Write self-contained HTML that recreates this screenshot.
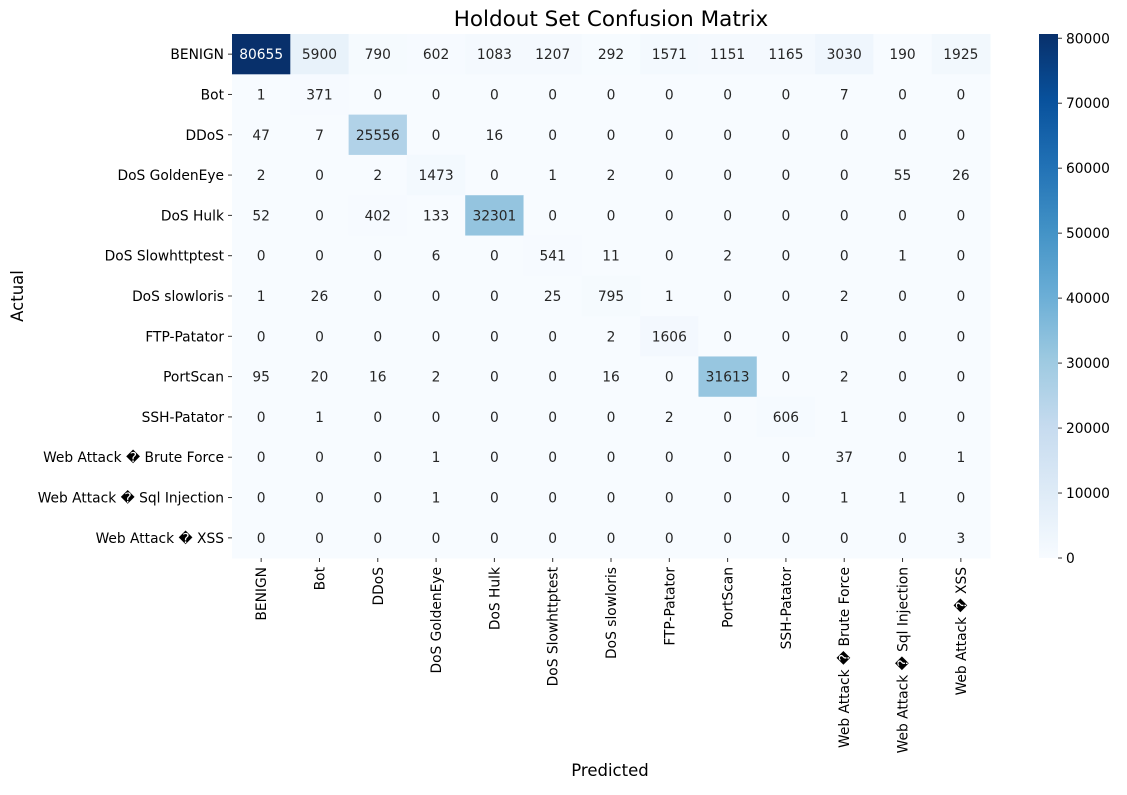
<!DOCTYPE html>
<html><head><meta charset="utf-8"><style>
body{margin:0;background:#fff;}
svg text{font-family:"DejaVu Sans","Liberation Sans",sans-serif;}
</style></head><body>
<svg id="chart" width="1127" height="790" xmlns="http://www.w3.org/2000/svg">
<text x="611" y="26" font-size="21.5" text-anchor="middle">Holdout Set Confusion Matrix</text>
<text x="610" y="776" font-size="16.5" text-anchor="middle">Predicted</text>
<text transform="translate(23,296) rotate(-90)" font-size="16.5" text-anchor="middle">Actual</text>
<g id="cells"></g><g id="xt"></g><g id="yt"></g><g id="cb"></g>
</svg>
<script>
const classes=["BENIGN","Bot","DDoS","DoS GoldenEye","DoS Hulk","DoS Slowhttptest","DoS slowloris","FTP-Patator","PortScan","SSH-Patator","Web Attack \uFFFD Brute Force","Web Attack \uFFFD Sql Injection","Web Attack \uFFFD XSS"];
const matrix=[
[80655,5900,790,602,1083,1207,292,1571,1151,1165,3030,190,1925],
[1,371,0,0,0,0,0,0,0,0,7,0,0],
[47,7,25556,0,16,0,0,0,0,0,0,0,0],
[2,0,2,1473,0,1,2,0,0,0,0,55,26],
[52,0,402,133,32301,0,0,0,0,0,0,0,0],
[0,0,0,6,0,541,11,0,2,0,0,1,0],
[1,26,0,0,0,25,795,1,0,0,2,0,0],
[0,0,0,0,0,0,2,1606,0,0,0,0,0],
[95,20,16,2,0,0,16,0,31613,0,2,0,0],
[0,1,0,0,0,0,0,2,0,606,1,0,0],
[0,0,0,1,0,0,0,0,0,0,37,0,1],
[0,0,0,1,0,0,0,0,0,0,1,1,0],
[0,0,0,0,0,0,0,0,0,0,0,0,3]];
const cbTicks=[0,10000,20000,30000,40000,50000,60000,70000,80000];
const NS="http://www.w3.org/2000/svg";
const L=232,R=990,T=34,B=558;
const n=classes.length,cw=(R-L)/n,ch=(B-T)/n;
let vmax=0;matrix.forEach(r=>r.forEach(v=>{if(v>vmax)vmax=v;}));
const stops=["#f7fbff","#deebf7","#c6dbef","#9ecae1","#6baed6","#4292c6","#2171b5","#08519c","#08306b"].map(h=>[1,3,5].map(i=>parseInt(h.substr(i,2),16)));
function cmap(t){t=Math.max(0,Math.min(1,t));const p=t*8,i=Math.min(7,Math.floor(p)),f=p-i;return stops[i].map((c,k)=>c+(stops[i+1][k]-c)*f);}
function mk(tag,attrs,parent){const e=document.createElementNS(NS,tag);for(const k in attrs)e.setAttribute(k,attrs[k]);parent.appendChild(e);return e;}
const FS=13.8;
const cells=document.getElementById('cells');
matrix.forEach((row,i)=>row.forEach((v,j)=>{
 const c=cmap(v/vmax);
 const r=mk('rect',{x:L+j*cw,y:T+i*ch,width:cw+0.5,height:ch+0.5,fill:`rgb(${c.map(Math.round).join(',')})`},cells);
 
 
 const lum=(0.2126*c[0]+0.7152*c[1]+0.0722*c[2])/255;
 const t=mk('text',{x:L+(j+0.5)*cw,y:T+(i+0.5)*ch+5,'font-size':FS,'text-anchor':'middle',fill:lum>0.408?'#262626':'#ffffff'},cells);
 t.textContent=v;
 
 
}));
const xt=document.getElementById('xt'),yt=document.getElementById('yt');
classes.forEach((c,i)=>{
 const x=L+(i+0.5)*cw;
 mk('line',{x1:x,x2:x,y1:B,y2:B+4,stroke:'#333'},xt);
 const t=mk('text',{transform:`translate(${x+5},${B+9}) rotate(-90)`,'font-size':FS,'text-anchor':'end'},xt);
 t.textContent=c;
 
 
 const y=T+(i+0.5)*ch;
 mk('line',{x1:L-4,x2:L,y1:y,y2:y,stroke:'#333'},yt);
 const u=mk('text',{x:L-8,y:y+5,'font-size':FS,'text-anchor':'end'},yt);
 u.textContent=c;
 
 
});
const cb=document.getElementById('cb');
const cbx=1039,cbw=19;
const defs=mk('defs',{},cb);
const g=mk('linearGradient',{id:'gr',x1:0,y1:1,x2:0,y2:0},defs);
for(let k=0;k<=8;k++){const c=stops[k];mk('stop',{offset:k/8,'stop-color':`rgb(${c.join(',')})`},g);}
const bar=mk('rect',{x:cbx,y:T,width:cbw,height:B-T,fill:'url(#gr)'},cb);


cbTicks.forEach(v=>{
 const y=B-(v/vmax)*(B-T);
 mk('line',{x1:cbx+cbw,x2:cbx+cbw+4,y1:y,y2:y,stroke:'#333'},cb);
 const t=mk('text',{x:cbx+cbw+8,y:y+5,'font-size':FS},cb);
 t.textContent=v;
 
 
});
</script>
</body></html>
